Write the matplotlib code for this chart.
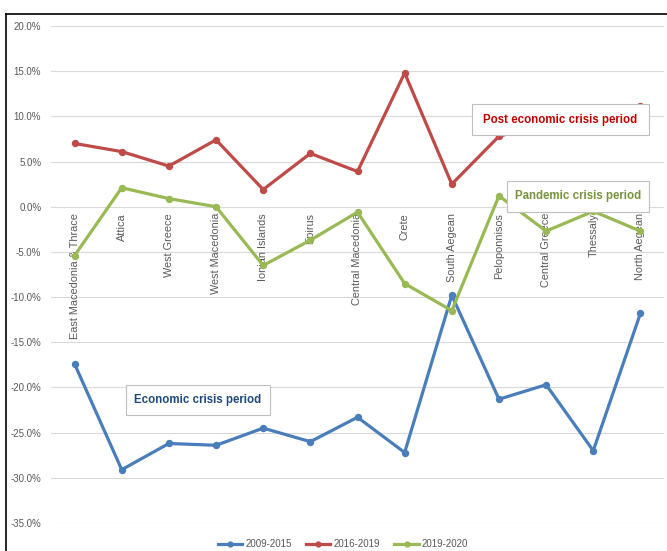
import numpy as np
import matplotlib
matplotlib.use("Agg")
import matplotlib.pyplot as plt
from matplotlib.patches import Rectangle
from matplotlib.lines import Line2D

# data (percent change)
regions = ["East Macedonia & Thrace", "Attica", "West Greece", "West Macedonia",
           "Ionian Islands", "Epirus", "Central Macedonia", "Crete", "South Aegean",
           "Peloponnisos", "Central Greece", "Thessaly", "North Aegean"]
p2009_2015 = [-17.4, -29.1, -26.2, -26.4, -24.5, -26.0, -23.3, -27.2, -9.8, -21.3, -19.7, -27.0, -11.8]
p2016_2019 = [7.0, 6.1, 4.5, 7.4, 1.9, 5.9, 3.9, 14.8, 2.5, 7.8, 9.2, 8.8, 11.2]
p2019_2020 = [-5.4, 2.1, 0.9, 0.0, -6.5, -3.7, -0.6, -8.5, -11.5, 1.2, -2.7, -0.5, -2.7]
series_names = ["2009-2015", "2016-2019", "2019-2020"]
colors = ["#4a7ebb", "#be4b48", "#98b954"]
yticks = np.arange(-35, 21, 5)

W, H = 667, 551
fig = plt.figure(figsize=(W/100, H/100), dpi=100)
plt.rcParams['font.family'] = ['Liberation Sans', 'DejaVu Sans']

def fx(px):
    return px / W

def fy(py):
    return 1 - py / H

ax = fig.add_axes([fx(51), fy(523), fx(664) - fx(51), fy(26) - fy(523)])
x = np.arange(len(regions))
for vals, c in zip([p2009_2015, p2016_2019, p2019_2020], colors):
    ax.plot(x, vals, color=c, lw=2.3, marker='o', ms=4.3, zorder=3, solid_joinstyle='round')

ax.set_xlim(-0.5, len(regions) - 0.5)
ax.set_ylim(-35, 20)
ax.set_yticks(yticks)
ax.set_yticklabels([f"{v:.1f}%" for v in yticks], fontsize=7, color="#595959")
ax.tick_params(axis='y', length=0, pad=7)
ax.set_xticks([])
ax.grid(axis='y', color="#d9d9d9", lw=0.8)
ax.set_axisbelow(True)
for s in ax.spines.values():
    s.set_visible(False)

# category labels hanging below the zero line
for i, name in enumerate(regions):
    ax.annotate(name, (i, 0), xytext=(0, -4.5), textcoords='offset points',
                rotation=90, ha='center', va='top', fontsize=7.8, color="#595959",
                zorder=2)

# annotation boxes
boxes = [
    ("Post economic crisis period", 472, 104, 649, 135, "#c00000"),
    ("Pandemic crisis period", 507, 181, 649, 212, "#77933c"),
    ("Economic crisis period", 126, 385, 270, 415, "#1f497d"),
]
for txt, x0, y0, x1, y1, c in boxes:
    r = Rectangle((fx(x0), fy(y1)), fx(x1) - fx(x0), fy(y0) - fy(y1),
                  transform=fig.transFigure, facecolor='white', edgecolor='#bfbfbf',
                  lw=0.8, zorder=10)
    fig.add_artist(r)
    fig.text(fx((x0 + x1) / 2), fy((y0 + y1) / 2), txt, ha='center', va='center',
             fontsize=8.3, fontweight='bold', color=c, zorder=11)

# outer frame (only left and top edges visible in the crop)
fig.add_artist(Line2D([fx(6), fx(6)], [fy(14), 0], transform=fig.transFigure, color='black', lw=1.2))
fig.add_artist(Line2D([fx(6), 1], [fy(14), fy(14)], transform=fig.transFigure, color='black', lw=1.2))

handles = [Line2D([], [], color=c, lw=2.3, marker='o', ms=3.5) for c in colors]
fig.legend(handles, series_names, loc='center', bbox_to_anchor=(fx(343), fy(544)),
           ncol=3, frameon=False, fontsize=7, labelcolor="#595959",
           handlelength=2.5, handletextpad=0.3, columnspacing=1.5)

fig.savefig("out.png", dpi=100)
